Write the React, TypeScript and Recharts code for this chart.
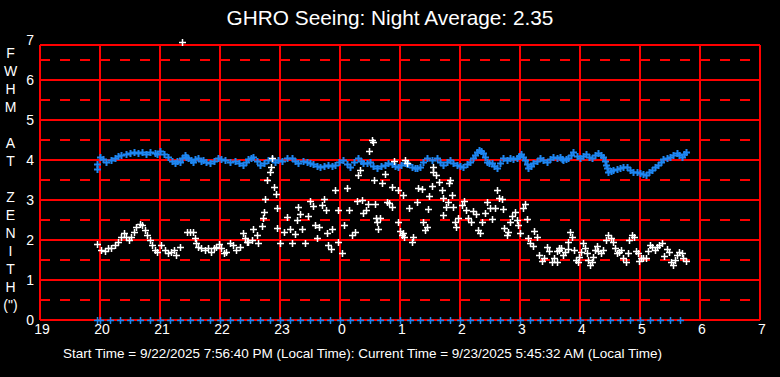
import React from "react";
import { ScatterChart, Scatter, XAxis, YAxis, ReferenceLine } from "recharts";

// Hour ticks (continuing past midnight as 24+)
const hourTicks = [19, 20, 21, 22, 23, 24, 25, 26, 27, 28, 29, 30, 31];
const fwhmTicks = [0, 1, 2, 3, 4, 5, 6, 7];
const solidLevels = [0, 1, 2, 3, 4, 5, 6];
const dashedLevels = [0.5, 1.5, 2.5, 3.5, 4.5, 5.5, 6.5];
const frameTop = 6.875;

const title = "GHRO Seeing: Night Average: 2.35";
const footer =
  "Start Time = 9/22/2025 7:56:40 PM (Local Time): Current Time = 9/23/2025 5:45:32 AM (Local Time)";
const yLabelLetters = ["F", "W", "H", "M", "", "A", "T", "", "Z", "E", "N", "I", "T", "H", "(\")"];

// Blue series (FWHM at zenith, upper band)
const blueTimes = [
  19.955, 19.955, 19.995, 20.05, 20.105, 20.175, 20.245, 20.3, 20.355, 20.425, 20.495,
  20.565, 20.633, 20.7, 20.772, 20.84, 20.912, 20.955, 20.995, 21.065, 21.133, 21.195,
  21.255, 21.29, 21.328, 21.37, 21.412, 21.44, 21.467, 21.51, 21.55, 21.59, 21.633,
  21.675, 21.717, 21.77, 21.828, 21.9, 21.967, 22.02, 22.078, 22.16, 22.245, 22.31,
  22.383, 22.425, 22.467, 22.51, 22.555, 22.61, 22.667, 22.735, 22.805, 22.86, 22.917,
  22.97, 23.028, 23.11, 23.195, 23.25, 23.305, 23.375, 23.445, 23.5, 23.555, 23.61,
  23.667, 23.735, 23.805, 23.86, 23.917, 23.985, 24.055, 24.11, 24.167, 24.235, 24.305,
  24.345, 24.388, 24.445, 24.5, 24.555, 24.612, 24.68, 24.75, 24.805, 24.862, 24.915,
  24.972, 25.025, 25.083, 25.11, 25.138, 25.195, 25.25, 25.29, 25.333, 25.39, 25.445,
  25.53, 25.612, 25.665, 25.722, 25.78, 25.833, 25.89, 25.945, 26.0, 26.055, 26.11,
  26.167, 26.21, 26.25, 26.285, 26.317, 26.35, 26.388, 26.415, 26.445, 26.485, 26.528,
  26.57, 26.612, 26.665, 26.722, 26.78, 26.833, 26.89, 26.945, 26.98, 27.012, 27.05,
  27.083, 27.11, 27.138, 27.18, 27.222, 27.28, 27.333, 27.39, 27.445, 27.5, 27.555,
  27.61, 27.667, 27.695, 27.722, 27.765, 27.805, 27.845, 27.888, 27.945, 28.0, 28.05,
  28.095, 28.145, 28.195, 28.25, 28.305, 28.345, 28.388, 28.41, 28.428, 28.45, 28.472,
  28.515, 28.555, 28.61, 28.667, 28.72, 28.778, 28.835, 28.888, 28.945, 29.0, 29.05,
  29.095, 29.145, 29.195, 29.25, 29.305, 29.345, 29.388, 29.445, 29.5, 29.555, 29.612,
  29.655, 29.695, 29.73, 29.762,
];
const blueFwhm = [
  3.89, 3.77, 4.08, 4.02, 3.96, 4.0, 4.04, 4.1, 4.12, 4.15, 4.18,
  4.21, 4.17, 4.2, 4.14, 4.19, 4.17, 4.15, 4.22, 4.16, 4.08, 3.98,
  3.92, 3.97, 3.96, 4.05, 4.12, 4.08, 4.04, 4.0, 3.96, 4.02, 4.04,
  3.98, 4.0, 3.96, 3.92, 3.98, 4.04, 4.02, 4.0, 3.96, 3.98, 3.93,
  3.88, 3.95, 4.02, 4.06, 4.08, 3.98, 3.88, 3.93, 4.0, 4.02, 3.96,
  4.0, 3.98, 4.04, 4.04, 3.97, 3.92, 3.97, 3.94, 3.92, 3.89, 3.85,
  3.83, 3.86, 3.88, 3.85, 3.88, 3.95, 4.0, 3.9, 3.83, 3.95, 4.04,
  3.98, 3.92, 3.93, 3.96, 3.86, 3.79, 3.84, 3.88, 3.92, 3.89, 3.86,
  3.83, 3.88, 3.92, 3.9, 3.89, 3.83, 3.79, 3.8, 3.83, 3.95, 4.04,
  4.0, 4.04, 3.95, 3.88, 3.95, 4.0, 3.93, 3.88, 3.84, 3.83, 3.9,
  3.96, 4.05, 4.12, 4.2, 4.25, 4.22, 4.17, 4.07, 3.96, 3.92, 3.92,
  3.85, 3.79, 3.92, 4.04, 4.01, 4.04, 4.02, 4.06, 4.1, 4.14, 4.08,
  4.0, 3.9, 3.81, 3.86, 3.92, 3.98, 4.04, 4.0, 3.96, 4.03, 4.08,
  4.05, 4.08, 4.03, 4.0, 4.02, 4.04, 4.12, 4.19, 4.1, 4.04, 4.09,
  4.14, 4.08, 4.04, 4.12, 4.17, 4.12, 4.08, 3.98, 3.88, 3.8, 3.71,
  3.73, 3.75, 3.77, 3.79, 3.82, 3.83, 3.76, 3.71, 3.7, 3.68, 3.66,
  3.63, 3.7, 3.75, 3.82, 3.88, 3.95, 4.02, 4.04, 4.07, 4.12, 4.17,
  4.12, 4.08, 4.14, 4.21,
];

// White series (lower, scattered)
const whiteTimes = [
  19.955, 20.022, 20.078, 20.133, 20.188, 20.245, 20.3, 20.355, 20.4, 20.438, 20.478,
  20.522, 20.567, 20.605, 20.662, 20.7, 20.745, 20.788, 20.828, 20.867, 20.912, 20.955,
  21.022, 21.078, 21.133, 21.188, 21.233, 21.272, 21.328, 21.367, 21.455, 21.495, 21.55,
  21.578, 21.605, 21.633, 21.688, 21.745, 21.8, 21.845, 21.9, 21.938, 21.983, 22.022,
  22.067, 22.105, 22.162, 22.217, 22.272, 22.328, 22.383, 22.412, 22.455, 22.472, 22.528,
  22.555, 22.612, 22.638, 22.695, 22.722, 22.73, 22.75, 22.788, 22.833, 22.85, 22.872,
  22.905, 22.928, 22.945, 22.955, 23.0, 23.072, 23.112, 23.167, 23.205, 23.25, 23.278,
  23.295, 23.333, 23.372, 23.417, 23.472, 23.5, 23.555, 23.583, 23.612, 23.65, 23.695,
  23.733, 23.762, 23.778, 23.805, 23.85, 23.872, 23.917, 23.962, 23.972, 24.028, 24.072,
  24.112, 24.155, 24.195, 24.25, 24.278, 24.305, 24.333, 24.362, 24.388, 24.433, 24.462,
  24.483, 24.528, 24.545, 24.572, 24.583, 24.595, 24.612, 24.638, 24.667, 24.695, 24.75,
  24.778, 24.817, 24.862, 24.872, 24.905, 24.962, 24.972, 25.0, 25.028, 25.055, 25.072,
  25.045, 25.083, 25.122, 25.155, 25.195, 25.222, 25.278, 25.305, 25.362, 25.378, 25.417,
  25.455, 25.472, 25.488, 25.528, 25.545, 25.555, 25.6, 25.655, 25.695, 25.712, 25.722,
  25.762, 25.795, 25.817, 25.833, 25.862, 25.888, 25.917, 25.928, 25.972, 26.028, 26.067,
  26.1, 26.138, 26.178, 26.222, 26.267, 26.305, 26.333, 26.362, 26.417, 26.455, 26.5,
  26.528, 26.583, 26.622, 26.655, 26.695, 26.722, 26.733, 26.778, 26.805, 26.833, 26.872,
  26.917, 26.945, 26.972, 27.0, 27.045, 27.083, 27.112, 27.138, 27.167, 27.212, 27.233,
  27.278, 27.322, 27.362, 27.4, 27.445, 27.488, 27.528, 27.567, 27.612, 27.655, 27.612,
  27.65, 27.683, 27.722, 27.75, 27.795, 27.805, 27.833, 27.872, 27.905, 27.928, 27.962,
  27.983, 28.017, 28.055, 28.083, 28.112, 28.138, 28.167, 28.195, 28.222, 28.25, 28.278,
  28.305, 28.35, 28.388, 28.428, 28.472, 28.517, 28.555, 28.583, 28.612, 28.65, 28.683,
  28.722, 28.762, 28.795, 28.817, 28.862, 28.905, 28.928, 28.962, 28.983, 29.017, 29.055,
  29.095, 29.128, 29.167, 29.205, 29.25, 29.278, 29.317, 29.362, 29.405, 29.445, 29.483,
  29.517, 29.555, 29.583, 29.612, 29.65, 29.695, 29.722, 29.762,
];
const whiteFwhm = [
  1.9, 1.75, 1.72, 1.79, 1.81, 1.88, 1.96, 2.08, 2.17, 2.08, 2.0,
  2.08, 2.21, 2.33, 2.4, 2.38, 2.25, 2.13, 2.0, 1.88, 1.75, 1.71,
  1.88, 1.75, 1.67, 1.71, 1.75, 1.63, 1.83, 6.95, 2.19, 2.21, 2.21,
  2.04, 1.92, 1.83, 1.79, 1.75, 1.79, 1.71, 1.79, 1.83, 1.89, 1.79,
  1.67, 1.71, 1.92, 1.88, 1.75, 1.83, 2.17, 2.04, 1.96, 1.96, 2.0,
  2.28, 2.13, 1.92, 2.35, 2.54, 2.71, 3.03, 3.5, 3.71, 3.83, 4.04,
  3.33, 3.14, 2.79, 2.29, 1.92, 2.19, 2.58, 2.27, 1.92, 2.14, 2.5,
  2.83, 2.64, 2.27, 1.93, 2.6, 2.98, 2.85, 2.38, 2.04, 2.33, 2.88,
  3.03, 2.75, 2.17, 1.88, 1.78, 2.27, 3.25, 2.75, 1.94, 1.67, 2.38,
  3.29, 2.75, 2.13, 2.21, 2.98, 3.63, 3.75, 3.0, 2.67, 2.75, 2.89,
  4.22, 4.5, 4.46, 3.5, 2.89, 2.54, 2.46, 2.28, 2.54, 3.42, 3.64,
  2.96, 2.92, 2.83, 3.33, 3.98, 3.25, 2.44, 2.23, 2.13, 3.13, 2.08,
  2.17, 4.0, 3.92, 2.81, 1.96, 2.08, 2.96, 3.29, 3.28, 2.44, 2.25,
  2.33, 2.77, 3.1, 3.35, 3.71, 3.83, 3.63, 3.44, 3.25, 3.04, 2.63,
  2.83, 2.94, 3.42, 3.5, 3.13, 2.83, 2.46, 2.33, 2.56, 2.88, 2.98,
  2.75, 2.54, 2.44, 2.73, 2.64, 2.25, 2.17, 2.46, 2.67, 2.94, 2.79,
  2.53, 2.79, 3.25, 3.06, 3.03, 2.78, 2.29, 2.13, 2.21, 2.44, 2.61,
  2.71, 2.5, 2.38, 2.17, 2.79, 2.89, 2.53, 2.04, 1.92, 1.86, 2.23,
  2.08, 1.63, 1.48, 1.54, 1.83, 1.73, 1.46, 1.54, 1.73, 1.79, 1.44,
  1.75, 1.79, 1.63, 1.69, 1.78, 1.94, 2.21, 2.08, 1.75, 1.5, 1.44,
  1.58, 1.71, 1.92, 1.79, 1.67, 1.5, 1.38, 1.46, 1.58, 1.75, 1.86,
  1.73, 1.67, 1.75, 2.0, 2.13, 2.06, 1.96, 1.81, 1.67, 1.71, 1.75,
  1.54, 1.46, 1.67, 2.0, 2.13, 2.08, 1.73, 1.67, 1.48, 1.54, 1.56,
  1.54, 1.73, 1.88, 1.83, 1.75, 1.83, 1.88, 1.92, 1.61, 1.78, 1.71,
  1.44, 1.38, 1.5, 1.63, 1.71, 1.67, 1.56, 1.48,
];

// Blue markers on the zero line (minutes after 19:00)
const zeroMinutes = [
  57, 60, 70, 80, 90, 100, 110, 120, 130, 140, 150, 160, 170, 180, 190, 200, 210, 220, 230,
  240, 250, 260, 270, 280, 290, 300, 310, 320, 330, 340, 350, 360, 370, 380, 390, 400, 410,
  420, 430, 440, 450, 460, 470, 480, 490, 500, 510, 520, 530, 540, 550, 560, 570, 580, 590,
  600, 610, 620, 630, 640,
];

const BLUE = "#1E86F2";
const WHITE = "#FFFFFF";
const RED = "#FF0000";
const FONT = "'Liberation Sans', Arial, sans-serif";

const blueData = blueTimes.map((t, i) => ({ t, v: blueFwhm[i] }));
const whiteData = whiteTimes.map((t, i) => ({ t, v: whiteFwhm[i] }));
const zeroData = zeroMinutes.map((m) => ({ t: 19 + m / 60, v: 0 }));

const makePlus = (color: string, width: number) => (props: any) => {
  const { cx, cy } = props;
  if (cx == null || cy == null) return <g />;
  const x = Math.round(cx) + 0.5;
  const y = Math.round(cy) + 0.5;
  return (
    <path
      d={`M${x - 3.5},${y}H${x + 3.5}M${x},${y - 3.5}V${y + 3.5}`}
      stroke={color}
      strokeWidth={width}
      fill="none"
    />
  );
};

const lineProps = { stroke: RED, strokeWidth: 2, shapeRendering: "crispEdges" as const };

export default function App() {
  return (
    <div
      style={{
        position: "absolute",
        left: 0,
        top: 0,
        width: 780,
        height: 377,
        background: "#000",
        fontFamily: FONT,
        overflow: "hidden",
      }}
    >
      <ScatterChart
        width={780}
        height={377}
        margin={{ top: 40, right: 20, bottom: 27, left: 0 }}
      >
        <XAxis
          type="number"
          dataKey="t"
          domain={[19, 31]}
          ticks={hourTicks}
          tickFormatter={(v: number) => String(v % 24)}
          axisLine={false}
          tickLine={false}
          tickSize={0}
          tickMargin={4}
          height={30}
          interval={0}
          tick={{ fill: WHITE, fontSize: 14, fontFamily: FONT, dx: 2 }}
        />
        <YAxis
          type="number"
          dataKey="v"
          domain={[0, 7]}
          ticks={fwhmTicks}
          axisLine={false}
          tickLine={false}
          tickSize={0}
          tickMargin={6}
          width={40}
          interval={0}
          tick={{ fill: WHITE, fontSize: 14, fontFamily: FONT }}
        />
        {dashedLevels.map((y) => (
          <ReferenceLine key={"d" + y} y={y} {...lineProps} strokeDasharray="10 10" />
        ))}
        {solidLevels.map((y) => (
          <ReferenceLine key={"s" + y} y={y} {...lineProps} />
        ))}
        <ReferenceLine y={frameTop} {...lineProps} />
        {hourTicks.map((h) => (
          <ReferenceLine
            key={"v" + h}
            segment={[
              { x: h, y: 0 },
              { x: h, y: frameTop },
            ]}
            {...lineProps}
          />
        ))}
        <Scatter data={zeroData} isAnimationActive={false} shape={makePlus(BLUE, 1.5)} />
        <Scatter data={blueData} isAnimationActive={false} shape={makePlus(BLUE, 2)} />
        <Scatter data={whiteData} isAnimationActive={false} shape={makePlus(WHITE, 1.5)} />
      </ScatterChart>

      <div
        style={{
          position: "absolute",
          left: 0,
          width: 780,
          top: 6,
          textAlign: "center",
          color: WHITE,
          fontSize: 20.8,
          lineHeight: "24px",
        }}
      >
        {title}
      </div>
      {yLabelLetters.map((ch, i) => (
        <div
          key={i}
          style={{
            position: "absolute",
            left: 0,
            width: 21,
            top: 53 + i * 18 - 9,
            height: 18,
            lineHeight: "18px",
            textAlign: "center",
            color: WHITE,
            fontSize: 14,
          }}
        >
          {ch}
        </div>
      ))}
      <div
        style={{
          position: "absolute",
          left: 0,
          width: 725,
          top: 346,
          textAlign: "center",
          color: WHITE,
          fontSize: 13.5,
          lineHeight: "16px",
        }}
      >
        {footer}
      </div>
    </div>
  );
}
